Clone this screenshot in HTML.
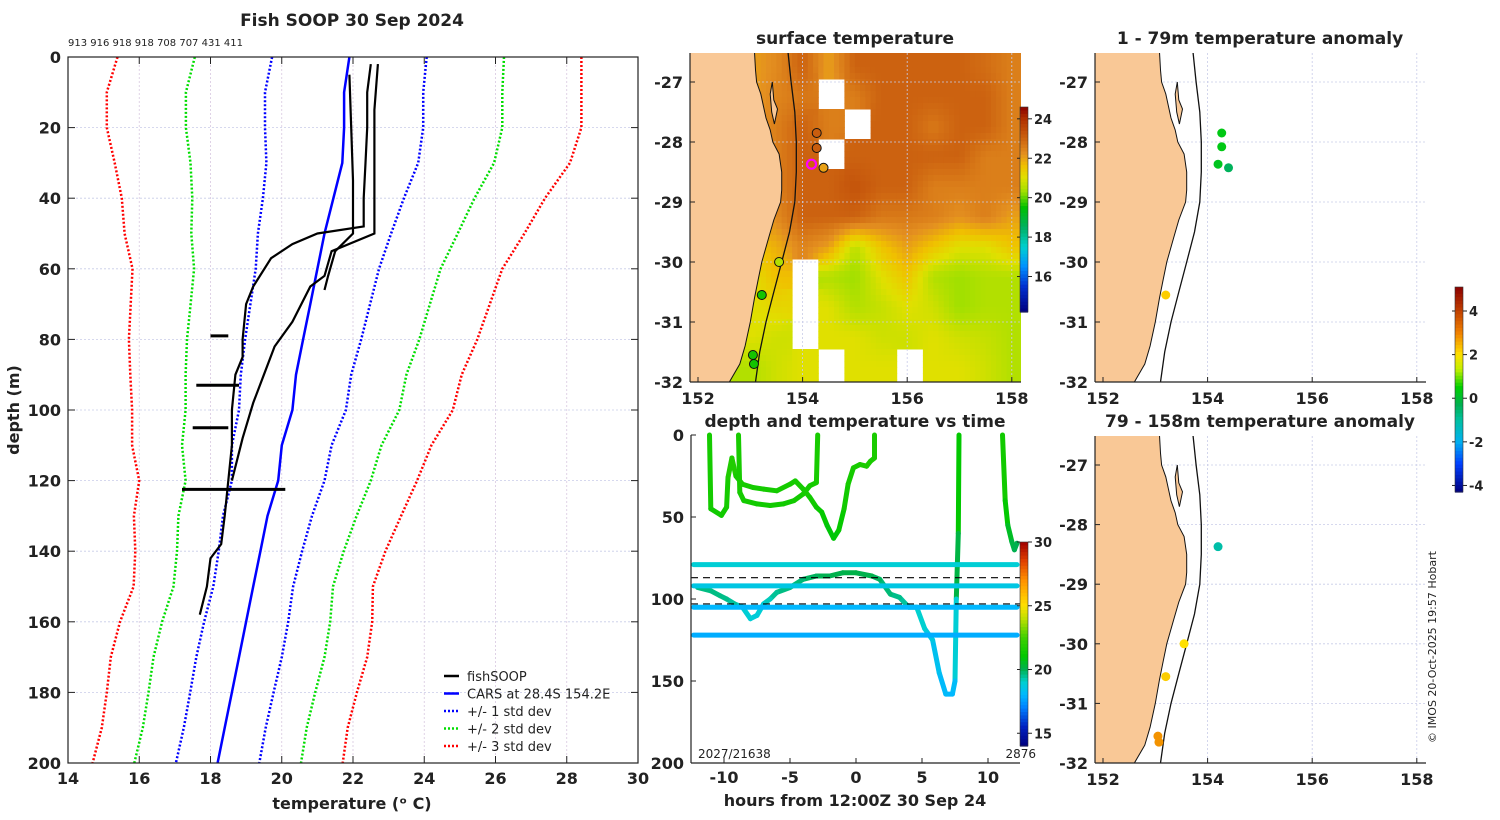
<!DOCTYPE html>
<html><head><meta charset="utf-8"><style>
html,body{margin:0;padding:0;background:#fff;}
svg{display:block;}
text{font-family:"DejaVu Sans","Liberation Sans",sans-serif;}
</style></head><body>
<svg id="fig" xmlns="http://www.w3.org/2000/svg" width="1500" height="820" viewBox="0 0 1500 820"></svg>
<script>
// ---------- DATA ----------
const profDepths = [0,10,20,30,40,50,60,70,80,90,100,110,120,130,140,150,160,170,180,190,200];
const carsMean   = [21.9,21.75,21.75,21.7,21.45,21.2,21.0,20.8,20.6,20.4,20.3,20.0,19.9,19.6,19.4,19.2,19.0,18.8,18.6,18.4,18.2];
const carsStd    = [2.17,2.22,2.22,2.13,1.98,1.87,1.73,1.68,1.63,1.55,1.5,1.4,1.3,1.25,1.17,1.12,1.18,1.2,1.17,1.15,1.17];
const soopTemps1 = [22.5,22.4,22.4,22.35,22.3,22.3,21.0,20.3,19.7,19.2,19.0,18.9,18.9,18.7,18.6,18.6,18.5,18.4,18.3,18.0,17.9,17.7];
const soopDeps1  = [2,10,20,30,40,48,50,53,57,65,70,80,85,90,100,110,120,130,138,142,150,158];
const soopTemps2 = [22.7,22.6,22.6,22.6,22.6,21.4,21.2,20.8,20.3,19.8,19.5,19.2,18.9,18.6];
const soopDeps2  = [2,15,30,40,50,55,62,65,75,82,90,98,108,120];
const soopTemps3 = [21.9,21.95,22.0,22.0,21.5,21.3,21.2];
const soopDeps3  = [5,20,35,50,55,62,66];
const soopBlipT  = [[18.0,18.5],[17.6,18.8],[17.5,18.5],[17.2,20.1]];
const soopBlipD  = [79,93,105,122.5];
const cruiseCounts = "913 916 918 918 708 707 431 411";

const sstLons = [152,152.5,153,153.5,154,154.5,155,155.5,156,156.5,157,157.5,158];
const sstLats = [-26.75,-27.25,-27.75,-28.25,-28.75,-29.25,-29.75,-30.25,-30.75,-31.25,-31.75];
const sstVals = [
 [22,22,22,22.3,23,22,23,23,23,23,23,22.8,22.5],
 [22,22,22,22.4,22.6,null,22.5,23,23,23,23,23,22.5],
 [22,22,22,22.5,23,22.5,null,23,23,22.6,23,23,22.5],
 [22,22,22,22.5,23,null,23,23,23,23,23,22.5,22.5],
 [22,22,22,22.5,23,23,23.3,23,23,22.5,22.5,22.5,22.5],
 [22,22,22,22.3,23,23,23,22.6,22.6,22.5,22.2,22.5,22],
 [21.5,21.5,21.5,21.8,22.4,22,20.6,21.5,22,21.5,21,21,21.5],
 [21,21,21,21.6,null,20.5,20.3,21,21.5,20.5,20.3,20.5,20.5],
 [21,21,21,21.2,null,21,20.5,20.7,21,20.8,20.3,20.5,20.5],
 [21,21,21,20.8,null,21,21,20.8,20.8,21,20.8,20.7,20.5],
 [20.5,20.5,20.5,20.8,21,null,21,21,null,21,21,20.8,20.5]
];
const sstStnLon = [154.27,154.27,154.4,153.55,153.22,153.05,153.07];
const sstStnLat = [-27.85,-28.1,-28.43,-30.0,-30.55,-31.55,-31.7];
const sstStnT   = [23.1,23.1,22.0,20.5,19.6,19.6,19.6];
const curLon = 154.17, curLat = -28.37;

const trkHours = [
 [-11.1,-11,-10.2,-9.8,-9.7,-9.4,-9.1,-8.6,-7.8,-7,-6,-5,-4.6,-4,-3.5,-3,-2.6,-2.2,-1.7,-1.3,-0.9,-0.6,-0.2,0.3,0.8,1.1,1.4,1.4],
 [-8.9,-8.8,-8.5,-7.5,-6.5,-5.5,-4.7,-4,-3.5,-3,-2.9],
 [7.8,7.75,7.6,7.5,7.3,6.8,6.3,5.8,5.2,4.6,4.0,3.3,2.6,1.8,1.2,0,-1,-2,-3,-4,-5,-6,-6.5,-7,-7.5,-8,-8.6,-9.2,-9.8,-10.3,-11,-12],
 [11.1,11.3,11.5,11.8,12.0,12.2],
 [-12.3,12.2],[-12.3,12.2],[-12.3,12.2],[-12.3,12.2]
];
const trkDepths = [
 [0,45,49,44,26,14,25,30,32,33,34,30,28,33,38,44,47,55,63,58,45,30,20,18,19,16,14,0],
 [0,35,40,42,43,42,40,36,31,29,0],
 [0,60,100,150,158,158,145,125,118,105,105,99,97,88,86,84,84,86,86,88,93,96,100,103,110,112,105,103,100,98,95,93],
 [0,40,55,65,70,66],
 [79,79],[92,92],[105,105],[122,122]
];
const trkTemps = [
 [21.5,21.5,21.3,21.5,21.5,22,21.5,21.5,21.5,21.5,21.5,21.5,21.5,21.5,21.5,21.3,21.2,21.0,20.8,21,21.3,21.5,21.5,21.6,21.6,21.6,21.6,21.6],
 [21.6,21.5,21.5,21.4,21.4,21.4,21.4,21.5,21.5,21.5,21.6],
 [21.3,20.8,19.5,18.3,18.0,18.0,18.2,18.5,18.8,19.2,19.3,19.5,19.6,19.8,20,20.1,20.1,20,20,19.8,19.6,19.6,19.3,19.0,18.8,18.8,19.0,19.3,19.5,19.6,19.6,19.6],
 [21.5,21.3,20.8,20.3,20.0,20.0],
 [18.9,18.9],[18.6,18.6],[18.0,18.0],[17.8,17.8]
];
const dashDepths = [87,103];

const anomTopLon = [154.27,154.27,154.2,154.4,153.2];
const anomTopLat = [-27.85,-28.08,-28.37,-28.43,-30.55];
const anomTopVal = [0.3,0.3,0.2,-0.4,2.2];
const anomBotLon = [154.2,153.55,153.2,153.05,153.07];
const anomBotLat = [-28.37,-30.0,-30.55,-31.55,-31.65];
const anomBotVal = [-1.1,2.0,2.2,2.8,2.8];

const coast = [[-26.5,153.08],[-26.8,153.1],[-27.0,153.12],[-27.2,153.2],[-27.4,153.25],[-27.6,153.3],[-27.8,153.38],[-28.0,153.43],[-28.2,153.55],[-28.5,153.6],[-28.8,153.6],[-29.0,153.58],[-29.3,153.45],[-29.6,153.35],[-30.0,153.22],[-30.3,153.15],[-30.6,153.08],[-31.0,153.0],[-31.4,152.9],[-31.7,152.8],[-32.0,152.6]];
const island = [[-27.0,153.42],[-27.3,153.45],[-27.45,153.52],[-27.7,153.46],[-27.5,153.41],[-27.2,153.38]];
const isobath = [[-26.5,153.72],[-27,153.78],[-27.5,153.85],[-28,153.88],[-28.5,153.88],[-29,153.85],[-29.5,153.75],[-30,153.6],[-30.5,153.45],[-31,153.3],[-31.5,153.18],[-32,153.1]];

// ---------- helpers ----------
const NS="http://www.w3.org/2000/svg";
const svg=document.getElementById('fig');
function mk(tag,attrs,parent){const e=document.createElementNS(NS,tag);for(const k in attrs)e.setAttribute(k,attrs[k]);(parent||svg).appendChild(e);return e;}
function txt(x,y,s,size,anchor,weight,parent){const e=mk('text',{x:x,y:y,'font-size':size,'text-anchor':anchor||'middle','font-weight':weight||'bold',fill:'#222'},parent);e.textContent=s;return e;}
function hex(c){return [parseInt(c.substr(1,2),16),parseInt(c.substr(3,2),16),parseInt(c.substr(5,2),16)];}
function cmap(stops,v){if(v<=stops[0][0])return stops[0][1];if(v>=stops[stops.length-1][0])return stops[stops.length-1][1];
 for(let i=1;i<stops.length;i++){if(v<=stops[i][0]){const t=(v-stops[i-1][0])/(stops[i][0]-stops[i-1][0]);const a=hex(stops[i-1][1]),b=hex(stops[i][1]);
 return 'rgb('+a.map((x,j)=>Math.round(x+(b[j]-x)*t)).join(',')+')';}}}
const sstStops=[[14.2,'#00007f'],[15.5,'#0030d0'],[16.5,'#0090ff'],[17.5,'#00d0d0'],[18.5,'#00b060'],[19.5,'#00c000'],[20.3,'#a0e000'],[21,'#e0e000'],[21.6,'#f0c000'],[22.2,'#e49020'],[23,'#cc6210'],[24,'#b03000'],[24.6,'#8b0000']];
const timeStops=[[14,'#00007f'],[15.5,'#0020c0'],[17,'#0080ff'],[18,'#00b8ff'],[19,'#00d0d0'],[20,'#00b050'],[21,'#00c800'],[22.5,'#40d000'],[24,'#c0e000'],[25,'#ffe000'],[27,'#ff9000'],[28.5,'#e04000'],[30,'#a00000']];
const anomStops=[[-4.3,'#00007f'],[-3,'#0040ff'],[-2,'#00b0f0'],[-1,'#00c0a0'],[-0.3,'#00b050'],[0.5,'#00d000'],[1.3,'#c0f000'],[2,'#ffe000'],[3,'#f08000'],[4,'#c04000'],[5.1,'#8b0000']];

// ---------- LEFT PROFILE PANEL ----------
const L={x0:68,x1:638,y0:57,y1:763,t0:14,t1:30,d0:0,d1:200};
const tx=t=>L.x0+(t-L.t0)/(L.t1-L.t0)*(L.x1-L.x0);
const dy=d=>L.y0+(d-L.d0)/(L.d1-L.d0)*(L.y1-L.y0);
let g=mk('g',{});


for(let t=16;t<30;t+=2){const e=mk('line',{x1:tx(t),x2:tx(t),y1:L.y0,y2:L.y1,stroke:'#d8c8e0','stroke-width':0.8,'stroke-dasharray':'2,2'},g);
 
 }
for(let d=20;d<200;d+=20){const e=mk('line',{x1:L.x0,x2:L.x1,y1:dy(d),y2:dy(d),stroke:'#c8cce8','stroke-width':0.8,'stroke-dasharray':'2,2'},g);
 
 }
function profPath(ts,ds){return ts.map((t,i)=>(i?'L':'M')+tx(t).toFixed(1)+','+dy(ds[i]).toFixed(1)).join('');}
const stdCols=['#0000ff','#00dd00','#ff0000'];
[1,2,3].forEach(k=>{[-1,1].forEach(s=>{
 const ts=carsMean.map((m,i)=>m+s*k*carsStd[i]);
 const e=mk('path',{d:profPath(ts,profDepths),fill:'none',stroke:stdCols[k-1],'stroke-width':2.5,'stroke-dasharray':'2,2'},g);
 
 });});
let e=mk('path',{d:profPath(carsMean,profDepths),fill:'none',stroke:'#0000ff','stroke-width':2.5},g);


[[soopTemps1,soopDeps1],[soopTemps2,soopDeps2],[soopTemps3,soopDeps3]].forEach((p,i)=>{
 const e=mk('path',{d:profPath(p[0],p[1]),fill:'none',stroke:'#000','stroke-width':2.2},g);
 
 });
soopBlipT.forEach((b,i)=>{const e=mk('path',{d:profPath(b,[soopBlipD[i],soopBlipD[i]]),fill:'none',stroke:'#000','stroke-width':3},g);
 
 });
e=mk('rect',{x:L.x0,y:L.y0,width:L.x1-L.x0,height:L.y1-L.y0,fill:'none',stroke:'#222','stroke-width':1.2},g);


for(let t=14;t<=30;t+=2){mk('line',{x1:tx(t),x2:tx(t),y1:L.y1,y2:L.y1-7,stroke:'#222'},g);mk('line',{x1:tx(t),x2:tx(t),y1:L.y0,y2:L.y0+7,stroke:'#222'},g);
 const e=txt(tx(t),784,String(t),16,'middle','bold',g);
 
 }
for(let d=0;d<=200;d+=20){mk('line',{x1:L.x0,x2:L.x0+7,y1:dy(d),y2:dy(d),stroke:'#222'},g);mk('line',{x1:L.x1,x2:L.x1-7,y1:dy(d),y2:dy(d),stroke:'#222'},g);
 const e=txt(61,dy(d)+6,String(d),16,'end','bold',g);
 
 }
e=txt(352,26,'Fish SOOP 30 Sep 2024',17,'middle','bold');


e=txt(68,46,cruiseCounts,10,'start','normal');


e=txt(352,809,'temperature (ᵒ C)',16,'middle','bold');


e=txt(0,0,'depth (m)',16,'middle','bold');e.setAttribute('transform','translate(19,410) rotate(-90)');


const legItems=[['fishSOOP','#000',''],['CARS at 28.4S 154.2E','#0000ff',''],['+/- 1 std dev','#0000ff','2,2'],['+/- 2 std dev','#00dd00','2,2'],['+/- 3 std dev','#ff0000','2,2']];
legItems.forEach((it,i)=>{const y=676+i*17.5;
 const a={x1:444,x2:459,y1:y,y2:y,stroke:it[1],'stroke-width':2.5};if(it[2])a['stroke-dasharray']=it[2];
 const l=mk('line',a);
 
 
 const t=txt(467,y+5,it[0],13,'start','normal');
 
 });

// ---------- MAP helpers ----------
function mapFns(x152,dpx,y27,dpy){return {x:lon=>x152+(lon-152)*dpx,y:lat=>y27+(-27-lat)*dpy};}
function drawMapBase(m,clipId,box,name){
 const cp=mk('clipPath',{id:clipId});mk('rect',{x:box[0],y:box[1],width:box[2]-box[0],height:box[3]-box[1]},cp);
 const gg=mk('g',{'clip-path':'url(#'+clipId+')'});
 
 
 return gg;}
function landPath(m){let d='M'+m.x(150)+','+m.y(-26)+' L'+m.x(coast[0][1])+','+m.y(-26);
 coast.forEach(c=>d+=' L'+m.x(c[1]).toFixed(1)+','+m.y(c[0]).toFixed(1));
 d+=' L'+m.x(152.3)+','+m.y(-33)+' L'+m.x(150)+','+m.y(-33)+'Z';return d;}
function lineThru(m,pts,close){return pts.map((c,i)=>(i?'L':'M')+m.x(c[1]).toFixed(1)+','+m.y(c[0]).toFixed(1)).join('')+(close?'Z':'');}
function drawCoast(m,gg){
 let e=mk('path',{d:landPath(m),fill:'#f9c896',stroke:'#111','stroke-width':1},gg);
 
 
 e=mk('path',{d:lineThru(m,island,true),fill:'#f9c896',stroke:'#111','stroke-width':1},gg);
 
 
 e=mk('path',{d:lineThru(m,isobath,false),fill:'none',stroke:'#111','stroke-width':1.3},gg);
 
 }
function mapGrid(m,gg,box){
 [154,156,158].forEach(l=>{const e=mk('line',{x1:m.x(l),x2:m.x(l),y1:box[1],y2:box[3],stroke:'#c8cce8','stroke-width':0.8,'stroke-dasharray':'2,2'},gg);
  
  });
 [-27,-28,-29,-30,-31].forEach(l=>{const e=mk('line',{x1:box[0],x2:box[2],y1:m.y(l),y2:m.y(l),stroke:'#c8cce8','stroke-width':0.8,'stroke-dasharray':'2,2'},gg);
  
  });}
function mapAxes(m,box,lblY){
 mk('line',{x1:box[0],x2:box[2],y1:box[3],y2:box[3],stroke:'#222','stroke-width':1.2});
 mk('line',{x1:box[0],x2:box[0],y1:box[1],y2:box[3],stroke:'#222','stroke-width':1.2});
 [152,154,156,158].forEach(l=>{mk('line',{x1:m.x(l),x2:m.x(l),y1:box[3],y2:box[3]-5,stroke:'#222'});
  const e=txt(m.x(l),lblY,String(l),16,'middle','bold');
  
  });
 [-27,-28,-29,-30,-31,-32].forEach(l=>{mk('line',{x1:box[0],x2:box[0]+5,y1:m.y(l),y2:m.y(l),stroke:'#222'});
  const e=txt(box[0]-7,m.y(l)+6,String(l),16,'end','bold');
  
  });}
function colorbar(x,y0,y1,vmin,vmax,stops,ticks,name){
 const gg=mk('g',{});
 
 
 const n=60;for(let i=0;i<n;i++){const v=vmax-(i+0.5)/n*(vmax-vmin);mk('rect',{x:x,y:y0+i*(y1-y0)/n,width:8,height:(y1-y0)/n+0.6,fill:cmap(stops,v)},gg);}
 mk('rect',{x:x,y:y0,width:8,height:y1-y0,fill:'none',stroke:'#333','stroke-width':0.6},gg);
 ticks.forEach(t=>{const yy=y1-(t-vmin)/(vmax-vmin)*(y1-y0);mk('line',{x1:x+8,x2:x+12,y1:yy,y2:yy,stroke:'#222'},gg);mk('line',{x1:x-3,x2:x,y1:yy,y2:yy,stroke:'#222'},gg);
  const e=txt(x+14,yy+5,String(t),13,'start','bold',gg);
  
  });}

// ---------- SST MAP ----------
const mS=mapFns(698,52.3,82,60);const boxS=[690,53,1021,382];
let gs=drawMapBase(mS,'clipS',boxS,'sst-map');
mk('rect',{x:690,y:53,width:331,height:329,fill:'#fff'},gs);
function sstAt(lon,lat){
 const fi=(lon-sstLons[0])/0.5, fj=(sstLats[0]-lat)/0.5;
 const i=Math.max(0,Math.min(sstLons.length-2,Math.floor(fi))), j=Math.max(0,Math.min(sstLats.length-2,Math.floor(fj)));
 const ni=Math.round(Math.max(0,Math.min(sstLons.length-1,fi))), nj=Math.round(Math.max(0,Math.min(sstLats.length-1,fj)));
 if(sstVals[nj][ni]===null)return null;
 const u=Math.max(0,Math.min(1,fi-i)),w=Math.max(0,Math.min(1,fj-j));
 const q=[sstVals[j][i],sstVals[j][i+1],sstVals[j+1][i],sstVals[j+1][i+1]].map(v=>v===null?sstVals[nj][ni]:v);
 return q[0]*(1-u)*(1-w)+q[1]*u*(1-w)+q[2]*(1-u)*w+q[3]*u*w;}
const cs=0.1;
for(let lon=151.8;lon<158.25;lon+=cs){for(let lat=-26.45;lat>-32.05;lat-=cs){
 const v=sstAt(lon+cs/2,lat-cs/2);if(v===null)continue;
 const c=mk('rect',{x:mS.x(lon).toFixed(1),y:mS.y(lat).toFixed(1),width:(cs*52.3+0.5).toFixed(1),height:(cs*60+0.5).toFixed(1),fill:cmap(sstStops,v)},gs);
 
 }}
mapGrid(mS,gs,boxS);drawCoast(mS,gs);
sstStnLon.forEach((lo,i)=>{const c=mk('circle',{cx:mS.x(lo),cy:mS.y(sstStnLat[i]),r:4.5,fill:cmap(sstStops,sstStnT[i]),stroke:'#111','stroke-width':1},gs);
 
 });
e=mk('circle',{cx:mS.x(curLon),cy:mS.y(curLat),r:4.5,fill:'none',stroke:'#ff00ff','stroke-width':2.2},gs);


mapAxes(mS,boxS,404);
e=txt(855,44,'surface temperature',17,'middle','bold');


colorbar(1020,107,312,14.2,24.6,sstStops,[16,18,20,22,24],'sst-colorbar');

// ---------- TIME-DEPTH PLOT ----------
const T={x0:691,x1:1020,y0:435,y1:763};
const hx=h=>856+h*13.2;
const ddy=d=>T.y0+d/200*(T.y1-T.y0);
let gt=mk('g',{});


trkHours.forEach((hs,k)=>{for(let i=0;i<hs.length-1;i++){
 const s=mk('line',{x1:hx(hs[i]).toFixed(1),y1:ddy(trkDepths[k][i]).toFixed(1),x2:hx(hs[i+1]).toFixed(1),y2:ddy(trkDepths[k][i+1]).toFixed(1),stroke:cmap(timeStops,(trkTemps[k][i]+trkTemps[k][i+1])/2),'stroke-width':5,'stroke-linecap':'round'},gt);
 
 }});
dashDepths.forEach(d=>{const l=mk('line',{x1:T.x0,x2:T.x1,y1:ddy(d),y2:ddy(d),stroke:'#000','stroke-width':1.2,'stroke-dasharray':'7,5'},gt);
 
 });
mk('line',{x1:T.x0,x2:T.x1,y1:T.y1,y2:T.y1,stroke:'#222','stroke-width':1.2});
mk('line',{x1:T.x0,x2:T.x0,y1:T.y0,y2:T.y1,stroke:'#222','stroke-width':1.2});
[-10,-5,0,5,10].forEach(h=>{mk('line',{x1:hx(h),x2:hx(h),y1:T.y1,y2:T.y1-5,stroke:'#222'});
 const e=txt(hx(h),783,String(h),16,'middle','bold');
 
 });
[0,50,100,150,200].forEach(d=>{mk('line',{x1:T.x0,x2:T.x0+5,y1:ddy(d),y2:ddy(d),stroke:'#222'});
 const e=txt(684,ddy(d)+6,String(d),16,'end','bold');
 
 });
e=txt(698,758,'2027/21638',12,'start','normal');


e=txt(1036,758,'2876',12,'end','normal');


e=txt(855,427,'depth and temperature vs time',17,'middle','bold');


e=txt(855,806,'hours from 12:00Z 30 Sep 24',16,'middle','bold');


colorbar(1020,542,746,14,30,timeStops,[15,20,25,30],'time-colorbar');

// ---------- ANOMALY MAPS ----------
function anomMap(m,box,lons,lats,vals,clip,name,lblY){
 const gg=drawMapBase(m,clip,box,name);
 mapGrid(m,gg,box);drawCoast(m,gg);
 lons.forEach((lo,i)=>{const c=mk('circle',{cx:m.x(lo),cy:m.y(lats[i]),r:4.5,fill:cmap(anomStops,vals[i])},gg);
  
  });
 mapAxes(m,box,lblY);}
const mA=mapFns(1103,52.3,82,60);const boxA=[1095,53,1426,382];
anomMap(mA,boxA,anomTopLon,anomTopLat,anomTopVal,'clipA','anomaly-map-shallow',404);
e=txt(1260,44,'1 - 79m temperature anomaly',17,'middle','bold');


const mB=mapFns(1103,52.3,465,59.6);const boxB=[1095,436,1426,763];
anomMap(mB,boxB,anomBotLon,anomBotLat,anomBotVal,'clipB','anomaly-map-deep',785);
e=txt(1260,427,'79 - 158m temperature anomaly',17,'middle','bold');


colorbar(1455,287,492,-4.3,5.1,anomStops,[-4,-2,0,2,4],'anomaly-colorbar');
e=txt(0,0,'© IMOS 20-Oct-2025 19:57 Hobart',11,'middle','normal');e.setAttribute('transform','translate(1436,647) rotate(-90)');


</script>
</body></html>
